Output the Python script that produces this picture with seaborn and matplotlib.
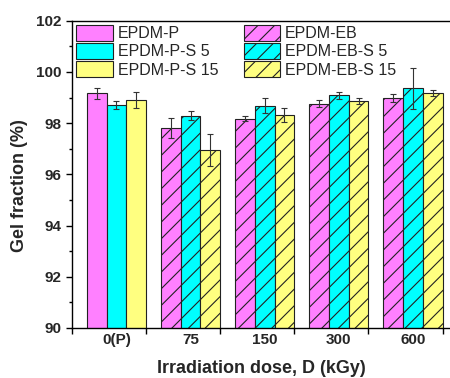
import numpy as np
import pandas as pd
import matplotlib
matplotlib.use("Agg")
import matplotlib.pyplot as plt
import seaborn as sns
from matplotlib.patches import Patch
from matplotlib.ticker import MultipleLocator, FixedLocator

# ---- data ----
doses = ["0(P)", "75", "150", "300", "600"]
series = ["S0", "S5", "S15"]
vals_s0 = [99.16, 97.81, 98.18, 98.76, 98.98]
vals_s5 = [98.71, 98.29, 98.68, 99.08, 99.36]
vals_s15 = [98.91, 96.95, 98.32, 98.86, 99.18]
err_s0 = [0.21, 0.39, 0.11, 0.13, 0.14]
err_s5 = [0.16, 0.17, 0.30, 0.14, 0.80]
err_s15 = [0.31, 0.62, 0.28, 0.13, 0.11]
legend_labels = ["EPDM-P", "EPDM-P-S 5", "EPDM-P-S 15",
                 "EPDM-EB", "EPDM-EB-S 5", "EPDM-EB-S 15"]
colors = ["#FF80FF", "#00FFFF", "#FFFF80"]

sns.set_style("ticks")
plt.rcParams["font.family"] = ["Liberation Sans", "DejaVu Sans"]
plt.rcParams["hatch.linewidth"] = 0.8

df = pd.DataFrame({
    "dose": doses * 3,
    "value": vals_s0 + vals_s5 + vals_s15,
    "series": [s for s in series for _ in doses],
})

fig = plt.figure(figsize=(4.5, 3.78), dpi=100)
ax = fig.add_axes([0.16, 0.1323, 0.84, 0.8129])

edge = "#222222"
sns.barplot(data=df, x="dose", y="value", hue="series", order=doses,
            hue_order=series, palette=colors, saturation=1, errorbar=None,
            width=0.8, edgecolor=edge, linewidth=0.8, legend=False, ax=ax)

for container, errs in zip(ax.containers, [err_s0, err_s5, err_s15]):
    for i, (bar, e) in enumerate(zip(container, errs)):
        if i > 0:
            bar.set_hatch("//")
        xc = bar.get_x() + bar.get_width() / 2
        ax.errorbar(xc, bar.get_height(), yerr=e, fmt="none", ecolor="#333333",
                    elinewidth=0.8, capsize=2.5, capthick=0.8, zorder=5)

ax.set_ylim(90, 102)
ax.set_xlim(-0.6, 4.5)
ax.yaxis.set_major_locator(MultipleLocator(2))
ax.yaxis.set_minor_locator(MultipleLocator(1))
ax.set_xticks(range(len(doses)))
ax.set_xticklabels(doses)
ax.xaxis.set_minor_locator(FixedLocator([i - 0.6 for i in range(len(doses) + 1)]))

ax.tick_params(axis="x", which="major", length=0, pad=3.5, labelsize=11)
ax.tick_params(axis="x", which="minor", length=4.5, width=1, direction="out", color="black")
ax.tick_params(axis="y", which="major", length=4.5, width=1, direction="out", labelsize=11, pad=3, color="black")
ax.tick_params(axis="y", which="minor", length=2.5, width=1, direction="out", color="black")
for lab in ax.get_xticklabels() + ax.get_yticklabels():
    lab.set_fontweight("bold")

for side in ["left", "bottom", "top"]:
    ax.spines[side].set_visible(True)
    ax.spines[side].set_linewidth(1)
    ax.spines[side].set_color("black")
ax.spines["right"].set_visible(False)

ax.set_xlabel("Irradiation dose, D (kGy)", fontsize=13, fontweight="bold", labelpad=9.5)
ax.set_ylabel("Gel fraction (%)", fontsize=13, fontweight="bold")
ax.yaxis.set_label_coords(-0.116, 0.462)

handles = []
for j, lab in enumerate(legend_labels):
    handles.append(Patch(facecolor=colors[j % 3], edgecolor=edge, linewidth=0.8,
                         hatch=("//" if j >= 3 else None)))
ax.legend(handles, legend_labels, ncol=2, loc="upper left",
          bbox_to_anchor=(0.0, 1.0), frameon=False, fontsize=11.5,
          handlelength=2.3, handleheight=1.15, handletextpad=0.3,
          labelspacing=0.12, columnspacing=1.6, borderaxespad=0.1, borderpad=0.15)

fig.savefig("out.png", dpi=100)
